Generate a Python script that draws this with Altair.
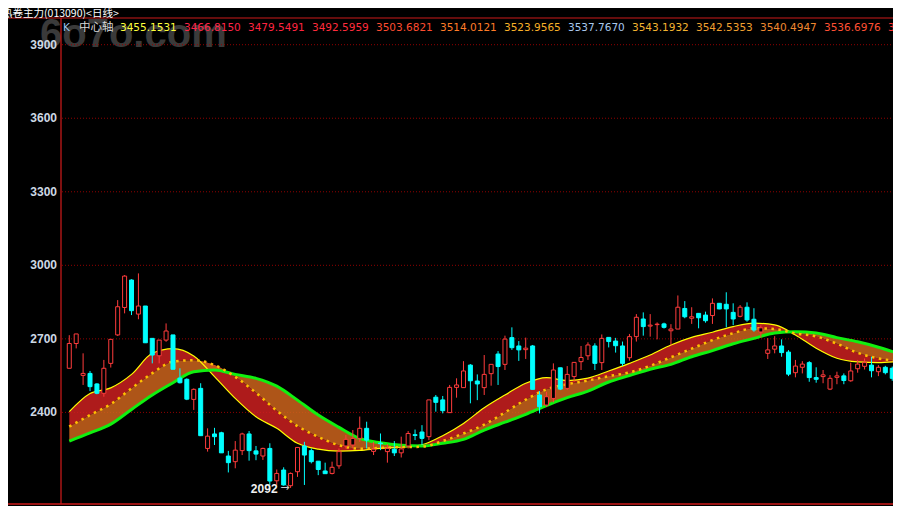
import altair as alt
import pandas as pd

# ---------------- data ----------------
opens = [2580, 2681, 2551, 2559, 2516, 2478, 2600, 2716, 2828, 2940,
         2801, 2834, 2702, 2631, 2695, 2716, 2540, 2535, 2453, 2498,
         2253, 2312, 2317, 2222, 2199, 2244, 2312, 2243, 2222, 2253,
         2121, 2165, 2101, 2158, 2263, 2244, 2201, 2161, 2151, 2182,
         2263, 2267, 2294, 2335, 2241, 2275, 2240, 2250, 2235, 2263,
         2309, 2320, 2301, 2462, 2451, 2399, 2502, 2501, 2593, 2528,
         2501, 2558, 2638, 2596, 2705, 2671, 2656, 2671, 2471, 2430,
         2457, 2582, 2498, 2546, 2607, 2631, 2671, 2603, 2706, 2691,
         2671, 2623, 2709, 2781, 2752, 2758, 2761, 2733, 2740, 2824,
         2784, 2804, 2797, 2795, 2845, 2841, 2808, 2792, 2829, 2780,
         2728, 2641, 2658, 2671, 2646, 2562, 2584, 2603, 2542, 2546,
         2495, 2543, 2549, 2529, 2578, 2588, 2593, 2566, 2584, 2580]
highs = [2715, 2720, 2641, 2569, 2519, 2614, 2698, 2858, 2960, 2943,
         2967, 2834, 2702, 2695, 2763, 2716, 2580, 2539, 2498, 2519,
         2335, 2337, 2321, 2243, 2283, 2317, 2324, 2263, 2256, 2274,
         2167, 2176, 2155, 2257, 2280, 2253, 2201, 2195, 2199, 2253,
         2308, 2328, 2383, 2362, 2280, 2314, 2271, 2283, 2301, 2324,
         2330, 2348, 2451, 2471, 2467, 2512, 2539, 2609, 2597, 2555,
         2634, 2596, 2650, 2713, 2747, 2691, 2705, 2675, 2487, 2484,
         2600, 2582, 2589, 2604, 2671, 2686, 2682, 2718, 2706, 2704,
         2689, 2720, 2801, 2808, 2801, 2767, 2766, 2760, 2877, 2854,
         2829, 2804, 2811, 2865, 2845, 2890, 2845, 2838, 2849, 2825,
         2755, 2703, 2711, 2698, 2654, 2614, 2609, 2609, 2584, 2573,
         2552, 2566, 2559, 2603, 2614, 2620, 2627, 2593, 2590, 2587]
lows = [2580, 2661, 2512, 2487, 2474, 2464, 2583, 2712, 2804, 2797,
        2780, 2684, 2600, 2600, 2688, 2576, 2518, 2450, 2410, 2305,
        2240, 2267, 2235, 2155, 2172, 2226, 2203, 2205, 2206, 2104,
        2104, 2101, 2092, 2137, 2104, 2192, 2144, 2150, 2147, 2170,
        2253, 2253, 2280, 2253, 2226, 2246, 2195, 2222, 2216, 2253,
        2287, 2267, 2287, 2403, 2396, 2399, 2460, 2501, 2437, 2450,
        2471, 2509, 2512, 2573, 2655, 2610, 2618, 2494, 2396, 2423,
        2441, 2491, 2491, 2525, 2573, 2614, 2573, 2573, 2665, 2644,
        2589, 2611, 2689, 2713, 2709, 2698, 2742, 2675, 2740, 2784,
        2761, 2743, 2766, 2761, 2821, 2747, 2756, 2788, 2770, 2729,
        2705, 2618, 2641, 2627, 2548, 2543, 2559, 2525, 2521, 2519,
        2491, 2515, 2515, 2525, 2562, 2575, 2543, 2548, 2555, 2529]
closes = [2681, 2720, 2559, 2505, 2478, 2580, 2698, 2831, 2956, 2815,
          2834, 2684, 2634, 2695, 2732, 2576, 2521, 2454, 2494, 2305,
          2303, 2301, 2235, 2195, 2246, 2312, 2244, 2230, 2253, 2120,
          2151, 2104, 2151, 2257, 2226, 2199, 2167, 2150, 2176, 2240,
          2290, 2294, 2335, 2287, 2250, 2272, 2253, 2235, 2251, 2314,
          2306, 2294, 2451, 2441, 2407, 2502, 2512, 2569, 2529, 2516,
          2555, 2596, 2587, 2699, 2664, 2655, 2662, 2494, 2423, 2464,
          2573, 2495, 2555, 2604, 2624, 2675, 2600, 2702, 2689, 2672,
          2600, 2709, 2788, 2750, 2756, 2760, 2747, 2740, 2829, 2790,
          2790, 2786, 2774, 2845, 2822, 2822, 2781, 2829, 2777, 2736,
          2745, 2655, 2671, 2644, 2556, 2589, 2597, 2542, 2535, 2553,
          2539, 2549, 2530, 2569, 2597, 2603, 2570, 2584, 2562, 2539]

band_pos = [1, 4, 7, 10, 13, 16, 19, 22, 25, 28,
            31, 34, 37, 40, 43, 46, 49, 52, 55, 58,
            61, 64, 67, 70, 73, 76, 79, 82, 85, 88,
            91, 94, 97, 100, 103, 106, 109, 112, 115, 118, 120.5]
fast_line = [2403, 2477, 2500, 2555, 2641, 2660, 2630, 2546, 2457, 2382,
             2335, 2274, 2250, 2242, 2245, 2253, 2258, 2268, 2305, 2355,
             2419, 2471, 2519, 2542, 2530, 2540, 2569, 2600, 2634, 2675,
             2706, 2727, 2750, 2764, 2757, 2716, 2662, 2621, 2606, 2603, 2607]
center_line = [2342, 2389, 2434, 2498, 2560, 2607, 2613, 2593, 2545, 2480,
               2407, 2344, 2300, 2266, 2252, 2255, 2258, 2260, 2283, 2314,
               2350, 2400, 2452, 2494, 2515, 2530, 2548, 2563, 2590, 2625,
               2660, 2695, 2723, 2743, 2740, 2722, 2710, 2680, 2643, 2620, 2611]
slow_line = [2283, 2316, 2352, 2412, 2471, 2521, 2566, 2573, 2555, 2539,
             2507, 2450, 2389, 2339, 2294, 2276, 2266, 2263, 2274, 2290,
             2328, 2360, 2392, 2428, 2460, 2487, 2524, 2550, 2576, 2596,
             2627, 2652, 2680, 2702, 2724, 2729, 2724, 2705, 2688, 2666, 2644]

y_ticks = [2400, 2700, 3000, 3300, 3600, 3900]

title_text = "热卷主力(013090)<日线>"
watermark_text = "6o7o.com"
header_label = "中心轴"
header_vals = ["3455.1531", "3466.8150", "3479.5491", "3492.5959", "3503.6821",
               "3514.0121", "3523.9565", "3537.7670", "3543.1932", "3542.5353",
               "3540.4947", "3536.6976", "35"]
header_colors = ["#ffff3c", "#ff2448", "#ff2440", "#ff2c3c", "#ff4c30",
                 "#ff7c28", "#f8b028", "#a8c8ec", "#f4b430", "#f0a030",
                 "#f08830", "#ff5034", "#ff3030"]

# ---------------- tables ----------------
candles = pd.DataFrame({"idx": list(range(1, len(opens) + 1)),
                        "open": opens, "high": highs, "low": lows, "close": closes})
candles["lo"] = candles[["open", "close"]].min(axis=1)
candles["hi"] = candles[["open", "close"]].max(axis=1)
candles["dir"] = ["up" if c >= o else "down" for o, c in zip(opens, closes)]

bands = pd.DataFrame({"pos": band_pos, "fast": fast_line,
                      "center": center_line, "slow": slow_line})

low_i = int(candles["low"].idxmin())
low_pt = pd.DataFrame({"idx": [candles.loc[low_i, "idx"]],
                       "low": [candles.loc[low_i, "low"]],
                       "lab": [str(int(candles.loc[low_i, "low"]))]})

# plot area: page x 62..893, page y 18..504 (7 px per candle)
W, H = 831, 486
xs = alt.Scale(domain=[0.6714, 0.6714 + W / 7.0], nice=False, zero=False)
ys = alt.Scale(domain=[2026.3, 4008.9], nice=False, zero=False)
X = lambda f: alt.X(f, scale=xs, axis=None)
Y = lambda f: alt.Y(f, scale=ys, axis=None)
dir_stroke = alt.Scale(domain=["up", "down"], range=["#ff3c3c", "#00ffff"])
dir_fill = alt.Scale(domain=["up", "down"], range=["#000000", "#00ffff"])

one = pd.DataFrame({"a": [0]})

watermark = alt.Chart(pd.DataFrame({"t": [watermark_text]})).mark_text(
    align="left", baseline="alphabetic", font="Liberation Sans", fontSize=40,
    fontWeight="bold", color="#3a3a3a").encode(
    text="t:N", x=alt.value(-22), y=alt.value(29))

grid = alt.Chart(pd.DataFrame({"v": y_ticks})).mark_rule(
    color="#900000", strokeDash=[1, 2], strokeWidth=1).encode(
    y=Y("v:Q"), x=alt.value(0), x2=alt.value(W))

area_fast = alt.Chart(bands).mark_area(
    color="#cc2020", opacity=0.85, interpolate="monotone").encode(
    x=X("pos:Q"), y=Y("fast:Q"), y2="center:Q")
area_slow = alt.Chart(bands).mark_area(
    color="#cc641c", opacity=0.85, interpolate="monotone").encode(
    x=X("pos:Q"), y=Y("center:Q"), y2="slow:Q")

line_fast = alt.Chart(bands).mark_line(
    color="#ffff00", strokeWidth=1.2, interpolate="monotone").encode(
    x=X("pos:Q"), y=Y("fast:Q"))
line_center = alt.Chart(bands).mark_line(
    color="#ffc000", strokeWidth=2.5, strokeDash=[2.5, 4.5], interpolate="monotone").encode(
    x=X("pos:Q"), y=Y("center:Q"))
line_slow = alt.Chart(bands).mark_line(
    color="#10f010", strokeWidth=3, interpolate="monotone").encode(
    x=X("pos:Q"), y=Y("slow:Q"))

wicks = alt.Chart(candles).mark_rule(strokeWidth=1).encode(
    x=X("idx:Q"), y=Y("low:Q"), y2="high:Q",
    color=alt.Color("dir:N", scale=dir_stroke, legend=None))
bodies = alt.Chart(candles).mark_bar(size=4, strokeWidth=1).encode(
    x=X("idx:Q"), y=Y("lo:Q"), y2="hi:Q",
    fill=alt.Fill("dir:N", scale=dir_fill, legend=None),
    stroke=alt.Stroke("dir:N", scale=dir_stroke, legend=None))

tick_labels = alt.Chart(pd.DataFrame({"v": y_ticks})).mark_text(
    align="right", baseline="middle", font="Liberation Sans", fontSize=12,
    fontWeight="bold", color="#cdd8e4").encode(
    x=alt.value(-5), y=Y("v:Q"), text=alt.Text("v:Q", format="d"))

axis_line = alt.Chart(one).mark_rule(color="#d41c1c", strokeWidth=1.2).encode(
    x=alt.value(-1), y=alt.value(0), y2=alt.value(H))
top_line = alt.Chart(one).mark_rule(color="#cc1a1a", strokeWidth=1).encode(
    x=alt.value(-62), x2=alt.value(W), y=alt.value(0))
bottom_line = alt.Chart(one).mark_rule(color="#cc1a1a", strokeWidth=1.5).encode(
    x=alt.value(-62), x2=alt.value(W), y=alt.value(H))

title = alt.Chart(pd.DataFrame({"t": [title_text]})).mark_text(
    align="left", baseline="top", font="Noto Sans CJK SC", fontSize=10.5,
    color="#ffffff").encode(text="t:N", x=alt.value(-60), y=alt.value(-9.5))

k_txt = alt.Chart(pd.DataFrame({"t": ["K"]})).mark_text(
    align="left", baseline="middle", font="DejaVu Sans", fontSize=10.5,
    color="#9cc8f0").encode(text="t:N", x=alt.value(1), y=alt.value(10))
zx_txt = alt.Chart(pd.DataFrame({"t": [header_label]})).mark_text(
    align="left", baseline="middle", font="Noto Sans CJK SC", fontSize=11.5,
    color="#d8d8d8").encode(text="t:N", x=alt.value(17), y=alt.value(10))

hdr = pd.DataFrame({"t": header_vals, "c": header_colors})
hdr["px"] = [58 + 64 * i for i in range(len(hdr))]
hdr_txt = alt.Chart(hdr).mark_text(
    align="left", baseline="middle", font="DejaVu Sans", fontSize=10.5).encode(
    text="t:N", x=alt.X("px:Q", scale=None), y=alt.value(10),
    color=alt.Color("c:N", scale=None))

low_lab = alt.Chart(low_pt).mark_text(
    align="right", baseline="middle", dx=-13, dy=1, font="Liberation Sans",
    fontSize=12, fontWeight="bold", color="#f0f0f0").encode(
    x=X("idx:Q"), y=Y("low:Q"), text="lab:N")
low_arrow = alt.Chart(low_pt).mark_text(
    align="right", baseline="middle", dx=-1, dy=0, font="DejaVu Sans",
    fontSize=11, color="#c8c8c8", text="→").encode(
    x=X("idx:Q"), y=Y("low:Q"))

chart = alt.layer(
    watermark, grid, area_fast, area_slow, line_fast, line_slow, line_center,
    wicks, bodies, tick_labels, axis_line, top_line, bottom_line, title, k_txt,
    zx_txt, hdr_txt, low_lab, low_arrow
).properties(
    width=W, height=H,
    padding={"left": 54, "top": 10, "right": 0, "bottom": 2},
    autosize=alt.AutoSizeParams(type="none")
).configure(background="#000000").configure_view(stroke=None)

chart.save("out.html", embed_options={"renderer": "svg", "actions": False})
